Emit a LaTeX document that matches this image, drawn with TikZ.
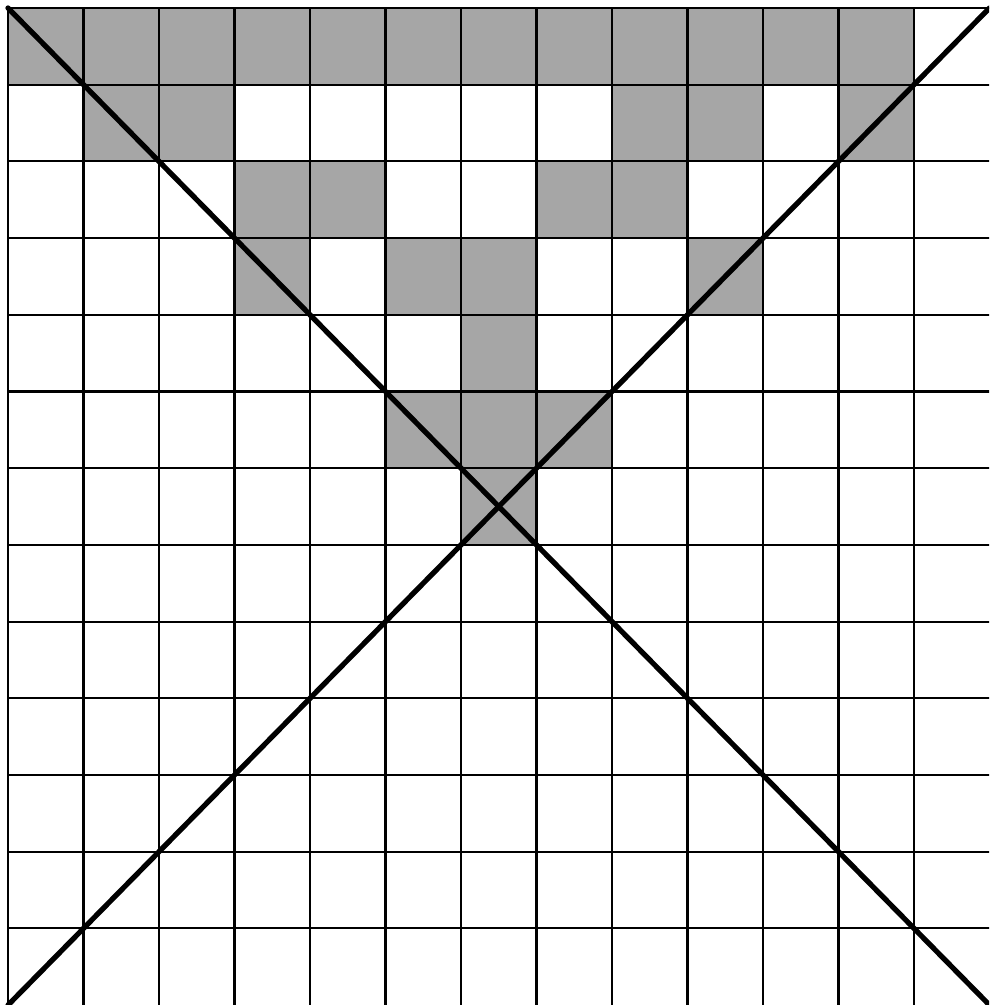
\documentclass[tikz,border=0pt]{standalone}
\begin{document}
\begin{tikzpicture}[x=0.2mm,y=-0.2mm,
  gridline/.style={line width=0.42mm, black},
  diagline/.style={line width=1.05mm, black, line cap=round},
  cellfill/.style={fill=black!35}]
\useasboundingbox (0,0) rectangle (989,1005);
\clip (0,0) rectangle (989,1005);
\def\w{75.5}
\def\h{76.7}
% gray cells (row, column)
\foreach \r/\c in {0/0,0/1,0/2,0/3,0/4,0/5,0/6,0/7,0/8,0/9,0/10,0/11,
                   1/1,1/2,1/8,1/9,1/11,
                   2/3,2/4,2/7,2/8,
                   3/3,3/5,3/6,3/9,
                   4/6,
                   5/5,5/6,5/7,
                   6/6}
  \fill[cellfill] ({8+\c*\w},{8+\r*\h}) rectangle ({8+(\c+1)*\w},{8+(\r+1)*\h});
% grid
\foreach \i in {0,...,12}
  \draw[gridline] ({8+\i*\w},8) -- ({8+\i*\w},1010);
\foreach \j in {0,...,12}
  \draw[gridline] (8,{8+\j*\h}) -- (995,{8+\j*\h});
% diagonals
\coordinate (tl) at (8,8);
\coordinate (br) at ({8+13*\w},{8+13*\h});
\coordinate (bl) at (8,{8+13*\h});
\coordinate (tr) at ({8+13*\w},8);
\draw[diagline] (tl) -- (br);
\draw[diagline] (bl) -- (tr);
\end{tikzpicture}
\end{document}
